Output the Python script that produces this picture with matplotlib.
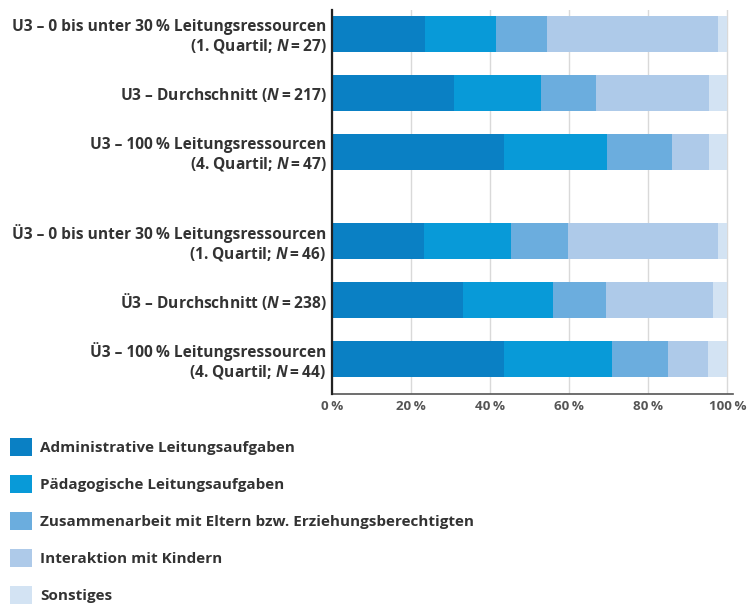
import numpy as np
import matplotlib.pyplot as plt
from matplotlib.patches import Patch

plt.rcParams['font.family'] = ['Open Sans', 'DejaVu Sans']
plt.rcParams['mathtext.fontset'] = 'custom'
plt.rcParams['mathtext.rm'] = 'Open Sans:bold'
plt.rcParams['mathtext.it'] = 'Open Sans:italic:bold'

groups = [
    'U3 \u2013 0 bis unter 30\u2009% Leitungsressourcen\n(1. Quartil; $\\mathit{N}$\u2009=\u200927)',
    'U3 \u2013 Durchschnitt ($\\mathit{N}$\u2009=\u2009217)',
    'U3 \u2013 100\u2009% Leitungsressourcen\n(4. Quartil; $\\mathit{N}$\u2009=\u200947)',
    '\u00dc3 \u2013 0 bis unter 30\u2009% Leitungsressourcen\n(1. Quartil; $\\mathit{N}$\u2009=\u200946)',
    '\u00dc3 \u2013 Durchschnitt ($\\mathit{N}$\u2009=\u2009238)',
    '\u00dc3 \u2013 100\u2009% Leitungsressourcen\n(4. Quartil; $\\mathit{N}$\u2009=\u200944)',
]
positions = [0, 1, 2, 3.5, 4.5, 5.5]

categories = [
    'Administrative Leitungsaufgaben',
    'P\u00e4dagogische Leitungsaufgaben',
    'Zusammenarbeit mit Eltern bzw. Erziehungsberechtigten',
    'Interaktion mit Kindern',
    'Sonstiges',
]
# shares in percent, one list per category (rows in order of groups)
administrativ = [23.6, 30.9, 43.4, 23.2, 33.1, 43.4]
paedagogisch = [17.8, 22.0, 26.1, 22.0, 22.7, 27.4]
eltern = [12.9, 13.8, 16.4, 14.6, 13.4, 14.1]
kinder = [43.4, 28.7, 9.5, 37.8, 27.2, 10.3]
sonstiges = [2.3, 4.6, 4.6, 2.4, 3.6, 4.8]
series = [administrativ, paedagogisch, eltern, kinder, sonstiges]

colors = ['#0a80c4', '#089ad8', '#6badde', '#aecae9', '#d3e3f3']
xticks = [0, 20, 40, 60, 80, 100]

fig = plt.figure(figsize=(7.52, 6.10), dpi=100)
ax = fig.add_axes([0.4415, 0.354, 0.9747 - 0.4415, 0.9836 - 0.354])

left = np.zeros(len(groups))
for vals, col, lab in zip(series, colors, categories):
    ax.barh(positions, vals, left=left, height=0.61, color=col,
            label=lab, zorder=3)
    left += np.array(vals)

ax.set_xlim(0, 101.4)
ax.set_ylim(6.1, -0.41)
ax.set_xticks(xticks)
ax.set_xticklabels([f'{t}\u2009%' for t in xticks])
ax.set_yticks(positions)
ax.set_yticklabels(groups, fontweight='bold', fontsize=11.2, color='#333333',
                   linespacing=1.15)
ax.tick_params(axis='y', length=0, pad=4)
ax.tick_params(axis='x', length=0, pad=4, labelsize=9.6, labelcolor='#555555')
for t in ax.get_xticklabels():
    t.set_fontweight('bold')

ax.grid(axis='x', color='#d9d9d9', linewidth=1, zorder=0)
for s in ['top', 'right']:
    ax.spines[s].set_visible(False)
ax.spines['left'].set_color('#222222')
ax.spines['left'].set_linewidth(1.6)
ax.spines['left'].set_zorder(4)
ax.spines['bottom'].set_color('#555555')
ax.spines['bottom'].set_linewidth(1.2)

handles = [Patch(facecolor=c, edgecolor='none') for c in colors]
fig.legend(handles, categories, loc='upper left',
           bbox_to_anchor=(0.005, 0.292), frameon=False,
           prop={'weight': 'bold', 'size': 11}, labelcolor='#333333',
           handlelength=1.45, handleheight=1.45, handletextpad=0.55,
           labelspacing=1.24, borderaxespad=0)

fig.savefig('out.png', dpi=100)
